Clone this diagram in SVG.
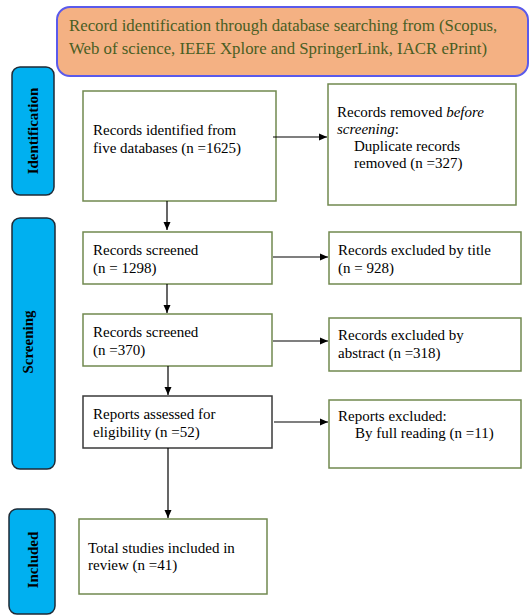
<svg xmlns="http://www.w3.org/2000/svg" width="532" height="615" viewBox="0 0 532 615">
<defs>
<marker id="ah" markerWidth="8" markerHeight="8" refX="8" refY="4" orient="auto" markerUnits="userSpaceOnUse">
<path d="M0,0.5 L8,4 L0,7.5 Z" fill="#000"/>
</marker>
<style>
.bar{fill:#00B0F0;stroke:#1e2a36;stroke-width:1.5}
.bl{font-family:"Liberation Serif","Times New Roman",serif;font-size:15px;font-weight:bold;fill:#000}
.box{fill:#fff;stroke:#71894f;stroke-width:1.5}
.dk{fill:#fff;stroke:#3a3a3a;stroke-width:1.5}
.t{font-family:"Liberation Serif","Times New Roman",serif;font-size:15px;fill:#000}
.h{font-family:"Liberation Serif","Times New Roman",serif;font-size:16.8px;fill:#4A5E24}
.c{stroke:#000;stroke-width:1.2;fill:none;marker-end:url(#ah)}
</style>
</defs>
<g id="header">
<rect x="57" y="7" width="471" height="69" rx="13" fill="#F4B183" stroke="#5a5aeb" stroke-width="2"/>
<text class="h" x="69" y="31">Record identification through database searching from (Scopus,</text>
<text class="h" x="69" y="54">Web of science, IEEE Xplore and SpringerLink, IACR ePrint)</text>
</g>
<g id="bar-identification">
<rect class="bar" x="12" y="67" width="42" height="128" rx="8"/>
<text class="bl" transform="translate(38,131) rotate(-90)" text-anchor="middle">Identification</text>
</g>
<g id="bar-screening">
<rect class="bar" x="12" y="218" width="43" height="251" rx="8"/>
<text class="bl" transform="translate(33,342) rotate(-90)" text-anchor="middle">Screening</text>
</g>
<g id="bar-included">
<rect class="bar" x="9" y="509" width="46" height="105" rx="8"/>
<text class="bl" transform="translate(38,560) rotate(-90)" text-anchor="middle">Included</text>
</g>
<g id="identified">
<rect class="box" x="83" y="91" width="193" height="110"/>
<text class="t" x="93" y="135">Records identified from</text>
<text class="t" x="93" y="153">five databases (n =1625)</text>
</g>
<g id="removed">
<rect class="box" x="328" y="84" width="188" height="121"/>
<text class="t" x="337" y="117" font-size="14">Records removed <tspan font-style="italic">before</tspan></text>
<text class="t" x="337" y="134" font-size="14"><tspan font-style="italic">screening</tspan>:</text>
<text class="t" x="354" y="151">Duplicate records</text>
<text class="t" x="354" y="168">removed (n =327)</text>
</g>
<g id="screened1">
<rect class="box" x="83" y="232" width="189" height="52"/>
<text class="t" x="93" y="255">Records screened</text>
<text class="t" x="93" y="273">(n = 1298)</text>
</g>
<g id="excluded-title">
<rect class="box" x="329" y="232" width="192" height="52"/>
<text class="t" x="338" y="255">Records excluded by title</text>
<text class="t" x="338" y="273">(n = 928)</text>
</g>
<g id="screened2">
<rect class="box" x="83" y="314" width="189" height="52"/>
<text class="t" x="93" y="337">Records screened</text>
<text class="t" x="93" y="355">(n =370)</text>
</g>
<g id="excluded-abstract">
<rect class="box" x="329" y="318" width="192" height="53"/>
<text class="t" x="338" y="340">Records excluded by</text>
<text class="t" x="338" y="358">abstract (n =318)</text>
</g>
<g id="assessed">
<rect class="dk" x="83" y="396" width="189" height="52"/>
<text class="t" x="93" y="419">Reports assessed for</text>
<text class="t" x="93" y="437">eligibility (n =52)</text>
</g>
<g id="reports-excluded">
<rect class="box" x="329" y="400" width="192" height="68"/>
<text class="t" x="338" y="421">Reports excluded:</text>
<text class="t" x="355" y="438">By full reading (n =11)</text>
</g>
<g id="included">
<rect class="box" x="79" y="519" width="188" height="75"/>
<text class="t" x="88" y="553">Total studies included in</text>
<text class="t" x="88" y="570">review (n =41)</text>
</g>
<g id="connectors">
<line class="c" x1="273" y1="137" x2="327" y2="137"/>
<line class="c" x1="167" y1="201" x2="167" y2="230"/>
<line class="c" x1="273" y1="257" x2="328" y2="257"/>
<line class="c" x1="167" y1="284" x2="167" y2="313"/>
<line class="c" x1="273" y1="341" x2="328" y2="341"/>
<line class="c" x1="168" y1="366" x2="168" y2="395"/>
<line class="c" x1="274" y1="422" x2="328" y2="422"/>
<line class="c" x1="168" y1="448" x2="168" y2="518"/>
</g>
</svg>
